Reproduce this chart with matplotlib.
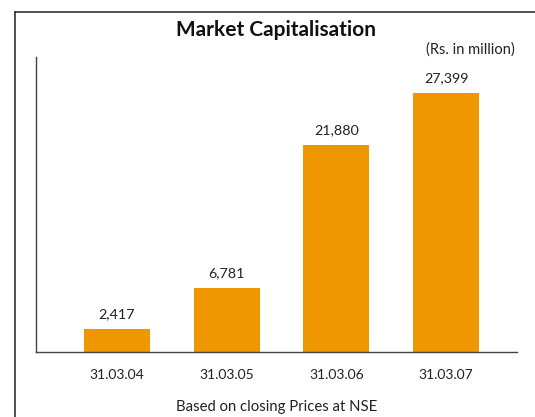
import matplotlib
matplotlib.use("Agg")
import matplotlib.pyplot as plt
from matplotlib.lines import Line2D

plt.rcParams['font.family'] = ['Lato', 'DejaVu Sans']

# data
years = ['31.03.04', '31.03.05', '31.03.06', '31.03.07']
market_cap = [2417, 6781, 21880, 27399]
labels = ['2,417', '6,781', '21,880', '27,399']

W, H = 535, 417
fig = plt.figure(figsize=(W / 100, H / 100), dpi=100)

# frame around the chart (cut off at right and bottom)
fig.add_artist(Line2D([15 / W, 1], [1 - 12 / H, 1 - 12 / H], color='#333333', lw=1.2))
fig.add_artist(Line2D([15 / W, 15 / W], [0, 1 - 12 / H], color='#333333', lw=1.2))

ax = fig.add_axes([36 / W, 1 - 352 / H, (517 - 36) / W, (352 - 57) / H])
x = range(len(years))
bars = ax.bar(x, market_cap, width=0.6, color='#EF9700')
for xi, v, lab in zip(x, market_cap, labels):
    ax.text(xi, v + 900, lab, ha='center', va='bottom', fontsize=10.3, color='#222222')

ax.set_xlim(-0.736, 3.645)
ax.set_ylim(0, 31200)
ax.set_xticks(list(x))
ax.set_xticklabels(years, fontsize=10, color='#222222')
ax.tick_params(axis='x', length=0, pad=12)
ax.set_yticks([])
for s in ['top', 'right']:
    ax.spines[s].set_visible(False)
for s in ['left', 'bottom']:
    ax.spines[s].set_color('#444444')
    ax.spines[s].set_linewidth(1.0)

fig.text(276 / W, 1 - 30 / H, 'Market Capitalisation', ha='center', va='center',
         fontsize=15, fontweight='bold', color='#111111')
fig.text(470 / W, 1 - 50 / H, '(Rs. in million)', ha='center', va='center',
         fontsize=10.5, color='#222222')
fig.text(277 / W, 1 - 407 / H, 'Based on closing Prices at NSE', ha='center', va='center',
         fontsize=10.7, color='#222222')

fig.savefig('out.png', dpi=100)
